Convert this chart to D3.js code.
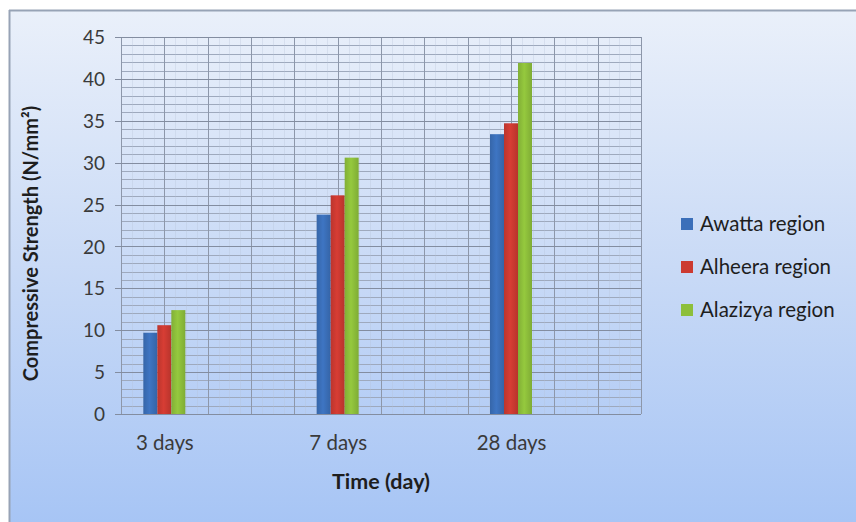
<!DOCTYPE html>
<html>
<head>
<meta charset="utf-8">
<script src="https://cdn.jsdelivr.net/npm/d3@7"></script>
<style>
  html, body { margin: 0; padding: 0; background: #ffffff; }
  svg { display: block; }
</style>
</head>
<body>
<svg id="chart" width="856" height="522"></svg>
<script>
const categories = ["3 days", "7 days", "28 days"];
const seriesNames = ["Awatta region", "Alheera region", "Alazizya region"];
const awatta = [9.7, 23.8, 33.4];
const alheera = [10.6, 26.1, 34.7];
const alazizya = [12.4, 30.6, 41.9];
const yTicks = [0, 5, 10, 15, 20, 25, 30, 35, 40, 45];
const seriesValues = [awatta, alheera, alazizya];
const colors = ["#3b6fb9", "#cc3a31", "#8dbf3b"];
const FONT = "Lato, 'Open Sans', sans-serif";

const svg = d3.select("#chart");
const defs = svg.append("defs");

const bg = defs.append("linearGradient").attr("id", "bg").attr("x1", 0).attr("y1", 0).attr("x2", 0).attr("y2", 1);
bg.append("stop").attr("offset", "0%").attr("stop-color", "#eaf0fa");
bg.append("stop").attr("offset", "50%").attr("stop-color", "#c9daf6");
bg.append("stop").attr("offset", "100%").attr("stop-color", "#a7c5f5");

colors.forEach((c, i) => {
  const g = defs.append("linearGradient").attr("id", "bar" + i).attr("x1", 0).attr("x2", 1).attr("y1", 0).attr("y2", 0);
  const base = d3.color(c);
  g.append("stop").attr("offset", "0%").attr("stop-color", base.darker(0.25));
  g.append("stop").attr("offset", "45%").attr("stop-color", base.brighter(0.15));
  g.append("stop").attr("offset", "100%").attr("stop-color", base.darker(0.3));
});

// chart background
svg.append("rect").attr("x", 9).attr("y", 10).attr("width", 856 - 9).attr("height", 522 - 10).attr("fill", "url(#bg)");
svg.append("line").attr("x1", 9).attr("x2", 856).attr("y1", 10.5).attr("y2", 10.5).attr("stroke", "#97a3b6").attr("stroke-width", 2);
svg.append("line").attr("x1", 9.5).attr("x2", 9.5).attr("y1", 10).attr("y2", 522).attr("stroke", "#97a3b6").attr("stroke-width", 2);

const pLeft = 121, pRight = 641, pTop = 37, pBottom = 414;
const y = d3.scaleLinear().domain([0, 45]).range([pBottom, pTop]);
const slots = d3.scaleLinear().domain([0, 12]).range([pLeft, pRight]);
const xCat = d3.scalePoint().domain(categories).range([slots(1), slots(9)]);
const xSeries = d3.scaleBand().domain(seriesNames).range([-21, 21]);

const grid = svg.append("g");
// minor horizontal
grid.selectAll("line.hmin").data(d3.range(0, 46, 1).filter(v => v % 5 !== 0)).enter().append("line")
  .attr("x1", pLeft).attr("x2", pRight)
  .attr("y1", d => Math.round(y(d)) + 0.5).attr("y2", d => Math.round(y(d)) + 0.5)
  .attr("stroke", "#9ea9bd").attr("stroke-width", 1);
// minor vertical
grid.selectAll("line.vmin").data(d3.range(0, 48, 1).filter(v => v % 4 !== 0)).enter().append("line")
  .attr("x1", d => Math.round(slots(d / 4)) + 0.5).attr("x2", d => Math.round(slots(d / 4)) + 0.5)
  .attr("y1", pTop).attr("y2", pBottom)
  .attr("stroke", "#b6c2d6").attr("stroke-width", 1).attr("opacity", 0.3);
// major vertical
grid.selectAll("line.vmaj").data(d3.range(0, 13)).enter().append("line")
  .attr("x1", d => Math.round(slots(d)) + 0.5).attr("x2", d => Math.round(slots(d)) + 0.5)
  .attr("y1", pTop).attr("y2", pBottom)
  .attr("stroke", "#8d97aa").attr("stroke-width", 1);
// major horizontal
grid.selectAll("line.hmaj").data(yTicks).enter().append("line")
  .attr("x1", pLeft - 6).attr("x2", pRight)
  .attr("y1", d => Math.round(y(d)) + 0.5).attr("y2", d => Math.round(y(d)) + 0.5)
  .attr("stroke", "#838da0").attr("stroke-width", 1.2);

// bars
const bars = svg.append("g");
seriesValues.forEach((vals, si) => {
  bars.selectAll("rect.s" + si).data(vals).enter().append("rect")
    .attr("x", (d, i) => xCat(categories[i]) + xSeries(seriesNames[si]))
    .attr("width", xSeries.bandwidth())
    .attr("y", d => y(d))
    .attr("height", d => y(0) - y(d))
    .attr("fill", "url(#bar" + si + ")");
});

// y axis labels
const yAxis = d3.axisLeft(y).tickValues(yTicks).tickSize(0).tickPadding(0);
const ya = svg.append("g").attr("transform", `translate(${pLeft - 16},0)`).call(yAxis);
ya.select(".domain").remove();
ya.selectAll("text").attr("font-family", FONT).attr("font-size", 19).attr("fill", "#3a3a3a").attr("dy", "0.35em");

// x axis labels
const xAxis = d3.axisBottom(xCat).tickSize(0).tickPadding(0);
const xa = svg.append("g").attr("transform", `translate(0,${pBottom + 22})`).call(xAxis);
xa.select(".domain").remove();
xa.selectAll("text").attr("font-family", FONT).attr("font-size", 20.5).attr("fill", "#3a3a3a").attr("dy", "0.7em");

// axis titles
svg.append("text").attr("x", (pLeft + pRight) / 2).attr("y", 489).attr("text-anchor", "middle")
  .attr("font-family", FONT).attr("font-size", 21.5).attr("font-weight", "bold").attr("fill", "#1e1e1e")
  .text("Time (day)");
svg.append("text").attr("transform", `translate(38,${(pTop + pBottom) / 2 + 18}) rotate(-90)`).attr("text-anchor", "middle")
  .attr("font-family", FONT).attr("font-size", 20).attr("font-weight", "bold").attr("fill", "#1e1e1e")
  .text("Compressive Strength (N/mm²)");

// legend
const legend = svg.append("g");
const ly = d3.scalePoint().domain(seriesNames).range([224, 310]);
seriesNames.forEach((name, i) => {
  legend.append("rect").attr("x", 681).attr("y", ly(name) - 6).attr("width", 12).attr("height", 12).attr("fill", colors[i]);
  legend.append("text").attr("x", 700).attr("y", ly(name)).attr("dy", "0.35em")
    .attr("font-family", FONT).attr("font-size", 20.5).attr("fill", "#1e1e1e").text(name);
});
</script>
</body>
</html>
